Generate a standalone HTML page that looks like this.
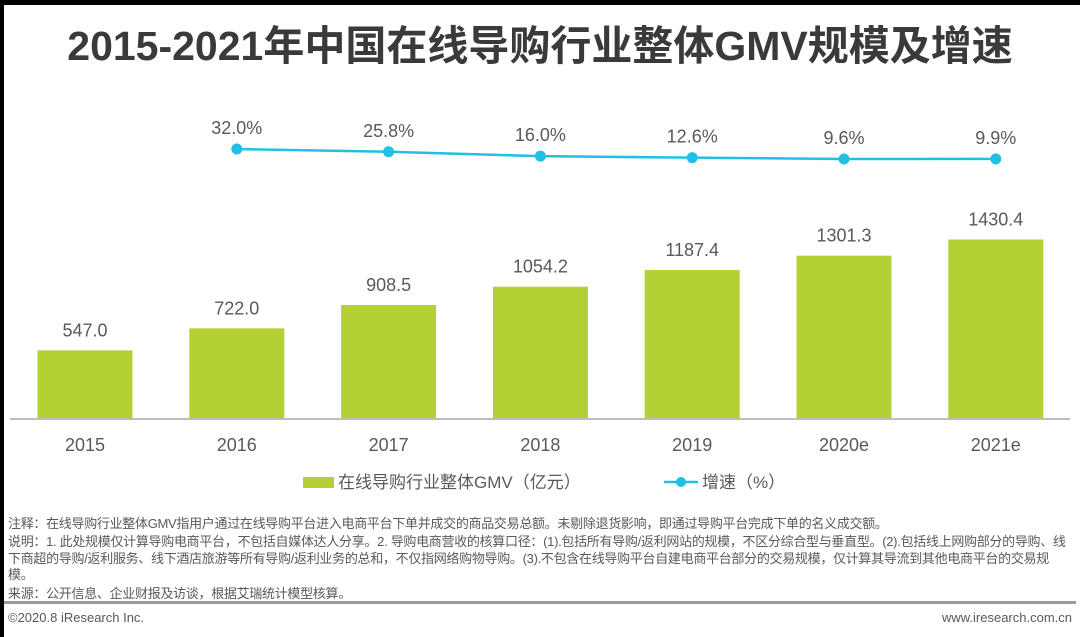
<!DOCTYPE html>
<html><head><meta charset="utf-8"><style>
body{margin:0;width:1080px;height:637px;background:#fff;overflow:hidden;position:relative;font-family:"Liberation Sans","Noto Sans CJK SC",sans-serif}
.t{position:absolute;white-space:nowrap}
</style></head><body>
<div style="position:absolute;left:0;top:0;width:1080px;height:5px;background:#000"></div>
<div style="position:absolute;left:0;top:0;width:4px;height:637px;background:#000"></div>
<div class="t" style="left:0;width:1080px;text-align:center;top:12px;font-size:41px;font-weight:bold;color:#3a3a3a;letter-spacing:0px">2015-2021年中国在线导购行业整体GMV规模及增速</div>
<svg id="chart" width="1080" height="510" style="position:absolute;left:0;top:0"></svg>
<div class="t" style="left:8px;top:516px;font-size:13px;letter-spacing:-0.3px;color:#595959;line-height:15px">注释：在线导购行业整体GMV指用户通过在线导购平台进入电商平台下单并成交的商品交易总额。未剔除退货影响，即通过导购平台完成下单的名义成交额。</div>
<div class="t" style="left:8px;top:534px;width:1066px;white-space:normal;font-size:13px;letter-spacing:-0.3px;color:#595959;line-height:16.5px">说明：1. 此处规模仅计算导购电商平台，不包括自媒体达人分享。2. 导购电商营收的核算口径：(1).包括所有导购/返利网站的规模，不区分综合型与垂直型。(2).包括线上网购部分的导购、线下商超的导购/返利服务、线下酒店旅游等所有导购/返利业务的总和，不仅指网络购物导购。(3).不包含在线导购平台自建电商平台部分的交易规模，仅计算其导流到其他电商平台的交易规模。</div>
<div class="t" style="left:8px;top:583px;font-size:13px;letter-spacing:-0.3px;color:#595959">来源：公开信息、企业财报及访谈，根据艾瑞统计模型核算。</div>
<div style="position:absolute;left:4px;top:601px;width:1072px;height:3px;background:#9a9a9a"></div>
<div class="t" style="left:8px;top:610px;font-size:13px;color:#595959">©2020.8 iResearch Inc.</div>
<div class="t" style="right:8px;top:610px;font-size:13px;color:#595959">www.iresearch.com.cn</div>
<script>
const categories=["2015","2016","2017","2018","2019","2020e","2021e"];
const gmvValues=[547.0,722.0,908.5,1054.2,1187.4,1301.3,1430.4];
const growthCats=["2016","2017","2018","2019","2020e","2021e"];
const growthValues=[32.0,25.8,16.0,12.6,9.6,9.9];
const NS="http://www.w3.org/2000/svg";
const svg=document.getElementById('chart');
const x0=85,step=151.8,bw=95,base=419;
const xPos=c=>x0+categories.indexOf(c)*step;
const yBar=v=>base-v*0.1255;
const yLine=v=>163.3-v*0.446;
function mk(tag,attrs,txt){const e=document.createElementNS(NS,tag);for(const k in attrs)e.setAttribute(k,attrs[k]);if(txt!==undefined)e.textContent=txt;svg.appendChild(e);return e;}
categories.forEach((c,i)=>{
  const x=xPos(c),y=yBar(gmvValues[i]);
  const r=mk('rect',{x:x-bw/2,y:y,width:bw,height:base-y,fill:'#b3d135'});
  
  
  const l=mk('text',{x:x,y:y-14,'text-anchor':'middle','font-size':18,fill:'#595959'},gmvValues[i].toFixed(1));
  
  
  const xl=mk('text',{x:x,y:451,'text-anchor':'middle','font-size':18,fill:'#595959'},c);
  
  
});
const ax=mk('line',{x1:10,x2:1070,y1:base,y2:base,stroke:'#bdbdbd','stroke-width':2});


const pts=growthCats.map((c,i)=>xPos(c)+','+yLine(growthValues[i])).join(' ');
const pl=mk('polyline',{points:pts,fill:'none',stroke:'#21bfe6','stroke-width':2.5});


growthCats.forEach((c,i)=>{
  const x=xPos(c),y=yLine(growthValues[i]);
  const d=mk('circle',{cx:x,cy:y,r:5.5,fill:'#21bfe6'});
  
  
  const l=mk('text',{x:x,y:y-15,'text-anchor':'middle','font-size':18,fill:'#595959'},growthValues[i].toFixed(1)+'%');
  
  
});
const ls=mk('rect',{x:303,y:477,width:31,height:11,fill:'#b3d135'});


const lt=mk('text',{x:338,y:488,'font-size':17,fill:'#595959'},'在线导购行业整体GMV（亿元）');


const ll=mk('line',{x1:664,x2:698,y1:482,y2:482,stroke:'#21bfe6','stroke-width':2.5});


const lc=mk('circle',{cx:681,cy:482,r:5,fill:'#21bfe6'});


const lt2=mk('text',{x:702,y:488,'font-size':17,fill:'#595959'},'增速（%）');


</script>
</body></html>
